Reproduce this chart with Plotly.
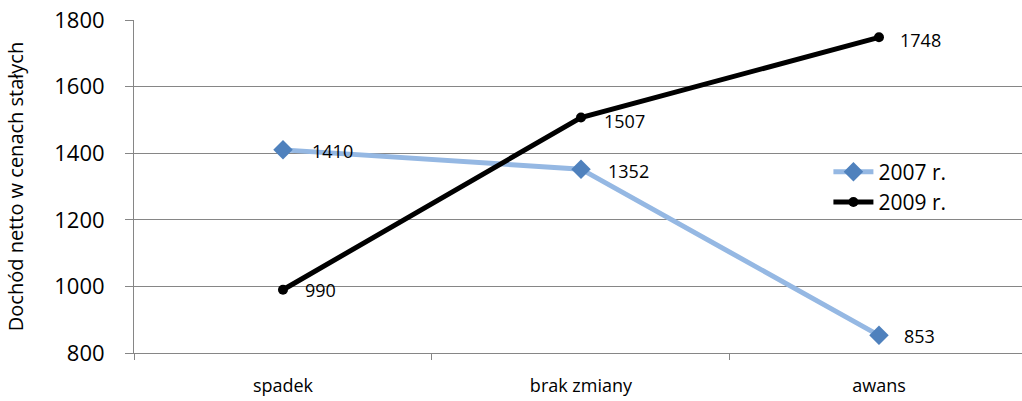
import plotly.graph_objects as go

categories = ["spadek", "brak zmiany", "awans"]
values_2007 = [1410, 1352, 853]
values_2009 = [990, 1507, 1748]
series_names = ["2007 r.", "2009 r."]
y_ticks = [800, 1000, 1200, 1400, 1600, 1800]

FONT = "Open Sans"
label_xshift_2007 = [27, 25, 23]
label_xshift_2009 = [20, 21, 19]
label_yshift_2007 = [-1, -2, -1]
label_yshift_2009 = [0, -3, -3]

fig = go.Figure()
fig.add_trace(go.Scatter(
    x=categories, y=values_2007, name=series_names[0], mode="lines+markers",
    line=dict(color="#95B8E3", width=5),
    marker=dict(symbol="diamond", size=15, color="#4F81BD"),
))
fig.add_trace(go.Scatter(
    x=categories, y=values_2009, name=series_names[1], mode="lines+markers",
    line=dict(color="#000000", width=5),
    marker=dict(symbol="circle", size=10, color="#000000"),
))

annotations = []
for vals, xs, ys in [(values_2007, label_xshift_2007, label_yshift_2007),
                     (values_2009, label_xshift_2009, label_yshift_2009)]:
    for c, v, dx, dy in zip(categories, vals, xs, ys):
        annotations.append(dict(
            x=c, y=v, text=str(v), showarrow=False, xanchor="left", yanchor="middle",
            xshift=dx, yshift=dy, font=dict(family=FONT, size=18, color="#000000"),
        ))

fig.update_layout(
    width=1022, height=401,
    margin=dict(l=134, r=0, t=20, b=48),
    paper_bgcolor="white", plot_bgcolor="white",
    showlegend=True,
    legend=dict(x=0.782, y=0.605, xanchor="left", yanchor="top",
                font=dict(family=FONT, size=21, color="#000000"),
                bgcolor="rgba(0,0,0,0)", tracegroupgap=0, itemwidth=40),
    annotations=annotations,
    font=dict(family=FONT, color="#000000"),
)
fig.update_xaxes(
    type="category", categoryorder="array", categoryarray=categories,
    range=[-0.5, 2.48], tickson="boundaries", ticks="outside", ticklen=6,
    tickcolor="#868686", showline=True, linecolor="#868686", linewidth=1,
    showgrid=False, zeroline=False, tickfont=dict(family=FONT, size=18, color="#000000"),
    ticklabelstandoff=16, ticklabeloverflow="allow",
)
fig.update_yaxes(
    range=[800, 1800], tickvals=y_ticks, ticks="outside", ticklen=8,
    tickcolor="#868686", showline=True, linecolor="#868686", linewidth=1,
    showgrid=True, gridcolor="#868686", gridwidth=1, zeroline=False,
    tickfont=dict(family=FONT, size=22, color="#000000"), ticklabelstandoff=16,
    ticklabeloverflow="allow",
    title=dict(text="Dochód netto w cenach stałych", standoff=25,
               font=dict(family=FONT, size=20, color="#000000")),
    automargin=False,
)
fig.write_html("out.html", config={"displayModeBar": False},
               post_script="document.body.style.margin='0';document.body.style.overflow='hidden';")
